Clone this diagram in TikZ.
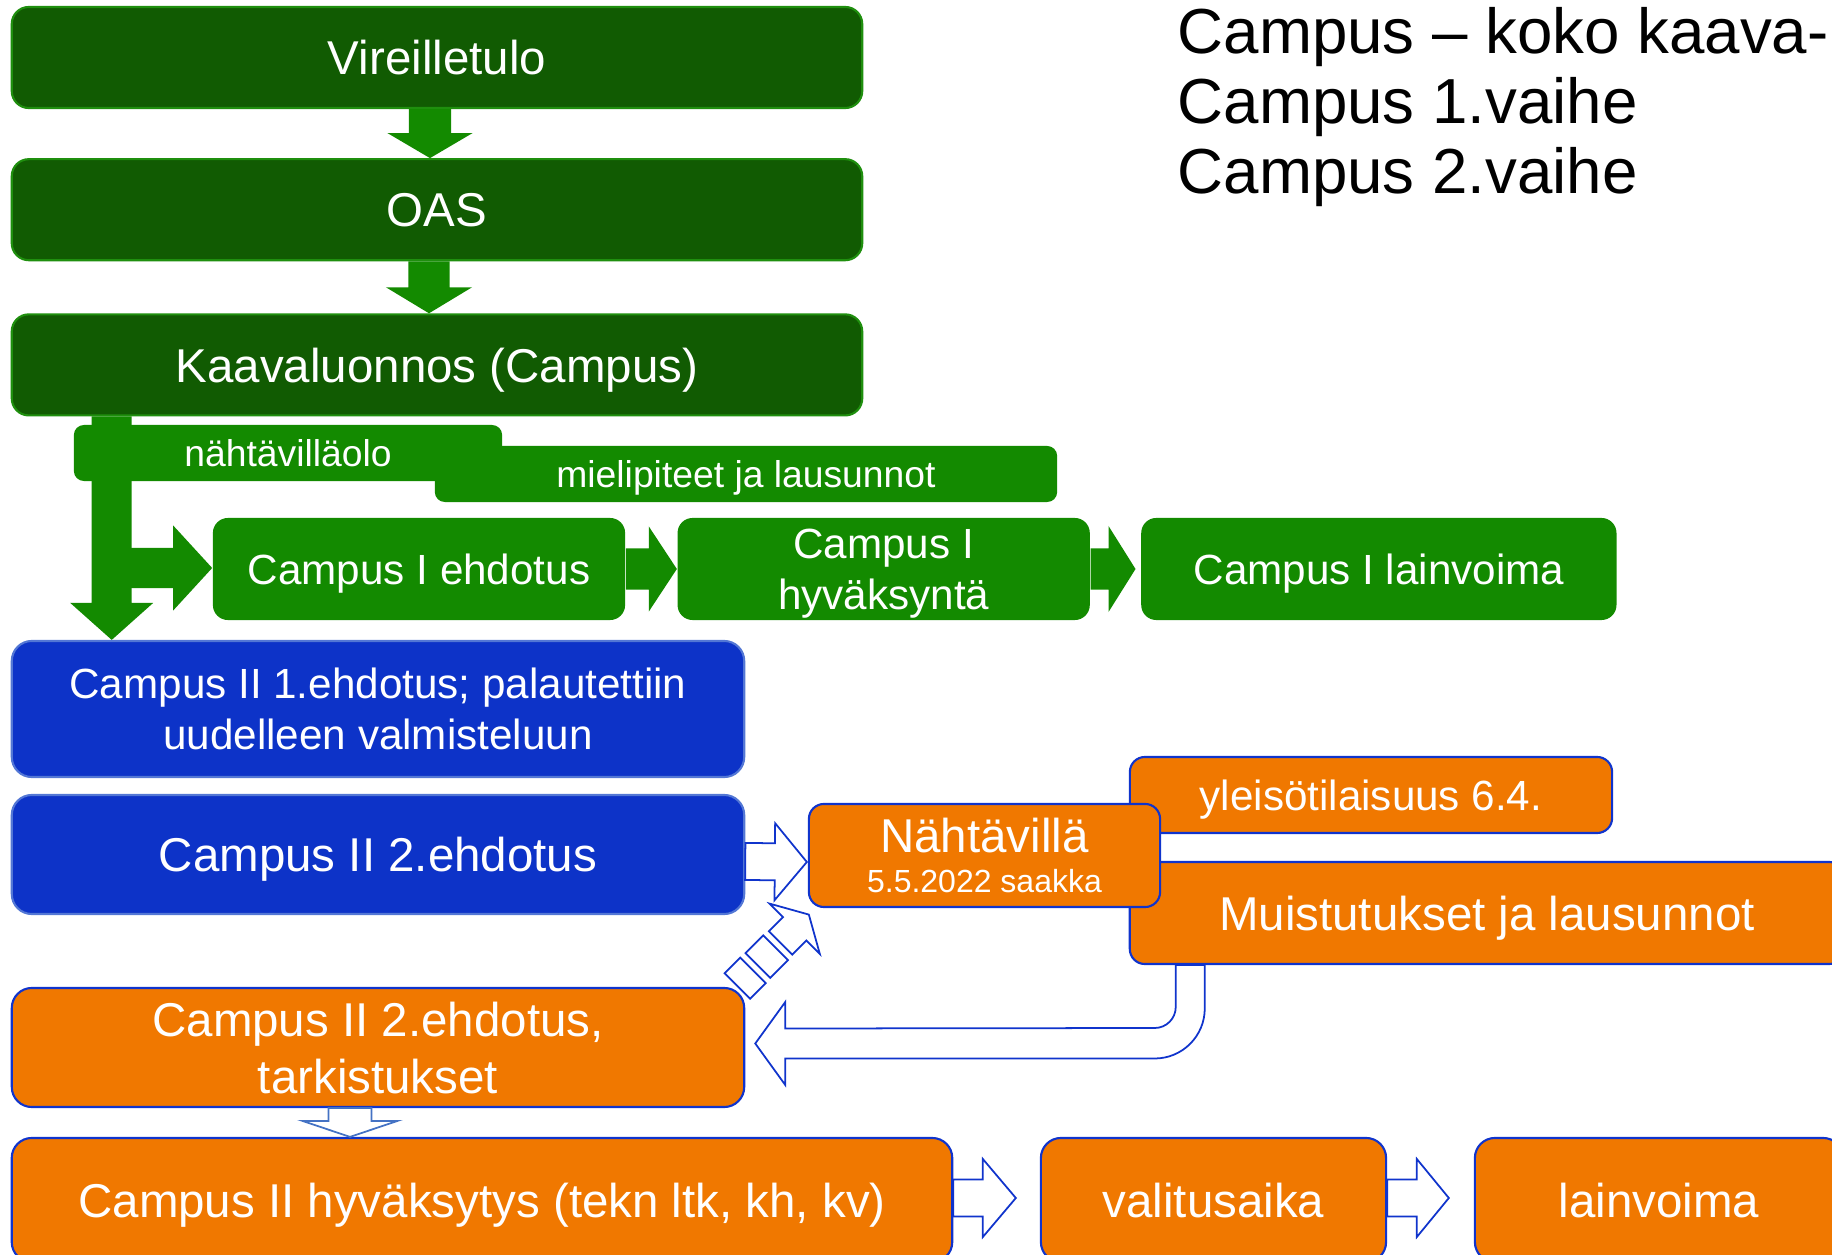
\documentclass[tikz,border=0pt]{standalone}
\usepackage{fontspec}
\setmainfont{Liberation Sans}
\usetikzlibrary{calc, positioning}
\definecolor{darkgreen}{HTML}{115B02}
\definecolor{darkedge}{HTML}{1F8F0E}
\definecolor{midgreen}{HTML}{138A00}
\definecolor{boxblue}{HTML}{0D33C8}
\definecolor{blueedge}{HTML}{5377D5}
\definecolor{boxorange}{HTML}{F07800}
\definecolor{linkblue}{HTML}{1034CC}
\definecolor{paleblue}{HTML}{4472C4}
\tikzset{
  stage/.style={rectangle, rounded corners=0.17cm, draw=darkedge, line width=0.6pt, fill=darkgreen,
                text=white, inner sep=0pt, text depth=0pt, minimum width=8.5cm, minimum height=1.01cm,
                font=\fontsize{13.5}{16.2}\selectfont},
  tagbox/.style={rectangle, rounded corners=0.1cm, fill=midgreen, text=white, inner sep=0pt,
                 text depth=0pt, minimum height=0.56cm, font=\fontsize{10.6}{12.7}\selectfont},
  phaseone/.style={rectangle, rounded corners=0.15cm, fill=midgreen, text=white, align=center,
                   inner sep=0pt, text depth=0pt, minimum height=1.02cm, font=\fontsize{12}{14.5}\selectfont},
  phasetwo/.style={rectangle, rounded corners=0.2cm, draw=blueedge, line width=0.6pt, fill=boxblue,
                   text=white, align=center, inner sep=0pt, text depth=0pt, minimum width=7.32cm},
  review/.style={rectangle, rounded corners=0.2cm, draw=linkblue, line width=0.6pt, fill=boxorange,
                 text=white, align=center, inner sep=0pt, text depth=0pt},
  bigtext/.style={font=\fontsize{13.5}{16.2}\selectfont},
  midtext/.style={font=\fontsize{12}{14.5}\selectfont},
  greenarrow/.style={fill=midgreen},
  hollow/.style={draw=linkblue, fill=white, line width=0.5pt, line join=miter},
}
% fat arrow from #2 to #3: shaft half width #4, head half width #5, head length #6
\newcommand{\blockarrow}[6][]{%
  \path[#1] let \p1=#2, \p2=#3,
      \n1={atan2(\y2-\y1,\x2-\x1)}, \n2={veclen(\x2-\x1,\y2-\y1)} in
    ($(\p1)+(\n1+90:#4)$) -- ($(\p1)+(\n1:\n2-#6)+(\n1+90:#4)$)
    -- ($(\p1)+(\n1:\n2-#6)+(\n1+90:#5)$) -- (\p2)
    -- ($(\p1)+(\n1:\n2-#6)+(\n1-90:#5)$) -- ($(\p1)+(\n1:\n2-#6)+(\n1-90:#4)$)
    -- ($(\p1)+(\n1-90:#4)$) -- cycle;%
}

\begin{document}
\begin{tikzpicture}[x=0.01cm, y=0.01cm]
\useasboundingbox (0,0) rectangle (1832,-1255);
\clip (0,0) rectangle (1832,-1255);

% yhteiset vaiheet
\node[stage] (vir) at (437,-57.5) {Vireilletulo};
\node[stage, below=0.49cm of vir] (oas) {OAS};
\node[stage, below=0.52cm of oas] (kaava) {Kaavaluonnos (Campus)};
\blockarrow[greenarrow]{($(vir.south)+(-7,0)$)}{($(oas.north)+(-7,0)$)}{0.21cm}{0.425cm}{0.25cm}
\blockarrow[greenarrow]{($(oas.south)+(-8,0)$)}{($(kaava.north)+(-8,0)$)}{0.205cm}{0.43cm}{0.26cm}

\node[tagbox, minimum width=4.28cm] (nakyvilla) at (288,-453) {nähtävilläolo};
\node[tagbox, minimum width=6.22cm] (mielip) at (746,-474) {mielipiteet ja lausunnot};

% Campus 1.vaihe
\node[phaseone, minimum width=4.12cm] (c1e) at (419,-569) {Campus I ehdotus};
\node[phaseone, minimum width=4.12cm, right=0.51cm of c1e] (c1h) {Campus I\\hyväksyntä};
\node[phaseone, minimum width=4.75cm, right=0.5cm of c1h] (c1l) {Campus I lainvoima};

% Campus 2.vaihe
\node[phasetwo, minimum height=1.36cm, midtext] (c2a) at (378,-709)
  {Campus II 1.ehdotus; palautettiin\\uudelleen valmisteluun};
\node[phasetwo, minimum height=1.19cm, bigtext] (c2b) at (378,-854.5) {Campus II 2.ehdotus};

\blockarrow[greenarrow]{($(kaava.south west)+(101,0)$)}{($(c2a.north west)+(101,0)$)}{0.2cm}{0.415cm}{0.37cm}
\blockarrow[greenarrow]{($(c1e.west)+(-104,1)$)}{($(c1e.west)+(0,1)$)}{0.2cm}{0.425cm}{0.39cm}
\blockarrow[greenarrow]{(c1e.east)}{(c1h.west)}{0.205cm}{0.425cm}{0.28cm}
\blockarrow[greenarrow]{(c1h.east)}{($(c1l.west)+(-5,0)$)}{0.205cm}{0.43cm}{0.27cm}

\node[review, minimum width=7.32cm, minimum height=1.19cm, bigtext] (c2t) at (378,-1047.5)
  {Campus II 2.ehdotus,\\tarkistukset};
\node[review, minimum width=4.82cm, minimum height=0.76cm, midtext, rounded corners=0.15cm] (yleis)
  at (1371,-795) {yleisötilaisuus 6.4.};
\node[review, minimum width=7.14cm, minimum height=1.02cm, bigtext, rounded corners=0.15cm] (muist)
  at (1487,-913) {Muistutukset ja lausunnot};
\node[review, minimum width=3.51cm, minimum height=1.03cm, rounded corners=0.15cm,
      font=\fontsize{13.5}{11.5}\selectfont] (nahta) at (984.5,-855.5)
  {Nähtävillä\\{\fontsize{9.1}{11.5}\selectfont 5.5.2022 saakka}};

\node[review, minimum width=9.4cm, minimum height=1.24cm, bigtext] (hyv) at (482,-1200)
  {Campus II hyväksytys (tekn ltk, kh, kv)};
\node[review, minimum width=3.45cm, minimum height=1.24cm, bigtext] (valit) at (1213.5,-1200) {valitusaika};
\node[review, minimum width=3.68cm, minimum height=1.24cm, bigtext] (lainv) at (1659,-1200) {lainvoima};

% onttonuolet
\blockarrow[hollow]{($(c2b.east)+(0,-7)$)}{($(nahta.west)+(-1,-6.5)$)}{0.185cm}{0.385cm}{0.32cm}
\coordinate (t1) at ($(c2t.south)+(-28,0)$);
\blockarrow[hollow, draw=paleblue]{(t1)}{(t1 |- hyv.north)}{0.215cm}{0.475cm}{0.16cm}
\blockarrow[hollow]{($(hyv.east)+(0,2)$)}{($(valit.west)+(-24,2)$)}{0.185cm}{0.39cm}{0.33cm}
\blockarrow[hollow]{($(valit.east)+(0,2)$)}{($(lainv.west)+(-25,2)$)}{0.185cm}{0.39cm}{0.32cm}

\coordinate (u1) at ($(muist.south west)+(47,0)$);
\coordinate (ut) at ($(c2t.east)+(10,4)$);
\draw[hollow] (u1) -- ($(u1 |- ut)+(0,36.5)$) arc[start angle=0, end angle=-90, radius=0.21cm]
  -- ($(ut)+(30,15)$) -- ($(ut)+(30,41.5)$) -- (ut) -- ($(ut)+(30,-41.5)$) -- ($(ut)+(30,-15)$)
  -- ($(u1 |- ut)+(-21,-15)$) arc[start angle=-90, end angle=0, radius=0.5cm] -- ($(u1)+(29,0)$) -- cycle;

\begin{scope}[shift={($(nahta.south west)+(1,-6.5)$)}, rotate=45]
  \draw[hollow] (-101,-18) rectangle (-79,18);
  \draw[hollow] (-72,-17.5) rectangle (-47,17.5);
  \draw[hollow] (-40,-16.5) -- (-20,-16.5) -- (-20,-35.5) -- (0,0) -- (-20,35.5) -- (-20,16.5)
    -- (-40,16.5) -- cycle;
\end{scope}

\node[anchor=north west, align=left, inner sep=0pt, font=\fontsize{18.1}{19.9}\selectfont] (title)
  at (1177,-7) {Campus – koko kaava-\\Campus 1.vaihe\\Campus 2.vaihe};
\end{tikzpicture}
\end{document}
